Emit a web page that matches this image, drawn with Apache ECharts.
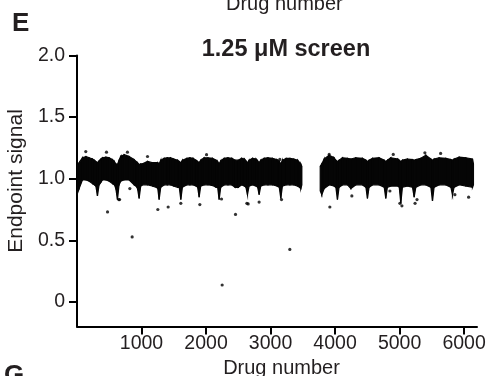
<!DOCTYPE html>
<html>
<head>
<meta charset="utf-8">
<script src="https://cdn.jsdelivr.net/npm/echarts@6/dist/echarts.min.js"></script>
<style>
html,body{margin:0;padding:0;background:#fff;overflow:hidden;}
#chart{width:499px;height:376px;}
</style>
</head>
<body>
<div id="chart"></div>
<script>
// ---- Data ----
// Dense band of screened drugs, given as its upper and lower envelope (two plate runs)
const band1Drug = [0,33,85,137,188,240,270,292,317,342,370,395,446,498,550,580,602,627,652,679,730,808,886,915,938,963,988,1015,1092,1170,1230,1252,1273,1298,1350,1400,1450,1500,1560,1585,1609,1634,1700,1750,1800,1845,1870,1893,1918,1970,2030,2100,2155,2180,2203,2228,2280,2340,2400,2450,2500,2550,2595,2618,2642,2667,2720,2775,2800,2823,2848,2900,2960,3030,3100,3135,3159,3184,3240,3300,3360,3420,3469,3485];
const band1High = [1.10,1.13,1.17,1.18,1.17,1.16,1.15,1.14,1.13,1.145,1.16,1.17,1.175,1.17,1.155,1.14,1.12,1.115,1.15,1.18,1.195,1.18,1.155,1.14,1.13,1.115,1.12,1.12,1.14,1.13,1.13,1.13,1.12,1.15,1.165,1.17,1.17,1.16,1.15,1.14,1.13,1.15,1.165,1.17,1.165,1.15,1.14,1.13,1.15,1.17,1.17,1.165,1.15,1.14,1.12,1.145,1.165,1.17,1.165,1.15,1.15,1.165,1.16,1.145,1.13,1.15,1.165,1.16,1.145,1.13,1.15,1.165,1.17,1.165,1.155,1.14,1.12,1.15,1.165,1.165,1.16,1.15,1.12,1.10];
const band1Low  = [0.87,0.92,0.99,0.99,0.98,0.96,0.95,0.94,0.86,0.95,0.97,0.99,0.99,0.98,0.96,0.95,0.92,0.83,0.95,0.98,0.99,0.99,0.95,0.94,0.92,0.84,0.94,0.95,0.95,0.94,0.93,0.92,0.83,0.93,0.95,0.95,0.95,0.94,0.93,0.93,0.83,0.93,0.95,0.95,0.95,0.94,0.93,0.85,0.94,0.95,0.95,0.945,0.93,0.93,0.83,0.93,0.95,0.95,0.95,0.93,0.93,0.95,0.94,0.93,0.87,0.94,0.95,0.94,0.93,0.87,0.94,0.95,0.95,0.95,0.94,0.93,0.84,0.94,0.95,0.95,0.95,0.94,0.92,0.95];
const band2Drug = [3770,3794,3831,3908,3985,4012,4037,4062,4115,4192,4244,4321,4425,4478,4502,4527,4580,4683,4762,4786,4811,4864,4972,4995,5019,5044,5122,5200,5226,5252,5329,5406,5485,5510,5535,5613,5716,5795,5820,5845,5923,6026,6130,6145];
const band2High = [1.10,1.12,1.16,1.19,1.17,1.15,1.14,1.15,1.17,1.165,1.16,1.17,1.165,1.15,1.14,1.15,1.165,1.17,1.15,1.14,1.15,1.17,1.16,1.15,1.14,1.15,1.16,1.155,1.15,1.155,1.165,1.19,1.16,1.15,1.16,1.17,1.165,1.155,1.15,1.16,1.175,1.17,1.16,1.12];
const band2Low  = [0.90,0.87,0.92,0.95,0.94,0.93,0.83,0.93,0.95,0.95,0.92,0.95,0.95,0.93,0.84,0.93,0.95,0.95,0.93,0.84,0.93,0.94,0.94,0.93,0.80,0.93,0.94,0.93,0.85,0.93,0.95,0.95,0.93,0.82,0.93,0.95,0.95,0.93,0.87,0.93,0.95,0.94,0.93,0.95];
// Individual drugs standing apart from the band
const pointDrug   = [136,457,690,782,1093,2008,3144,3909,4902,5392,5636,473,855,1253,1413,1609,1904,648,660,2240,2250,2457,2633,2653,2823,3170,3299,3919,4260,4850,5005,5036,5240,5270,5857,6070,819];
const pointSignal = [1.22,1.215,1.18,1.215,1.18,1.195,1.156,1.197,1.197,1.21,1.205,0.73,0.527,0.75,0.77,0.80,0.79,0.83,0.83,0.835,0.137,0.71,0.80,0.795,0.81,0.83,0.426,0.77,0.86,0.90,0.80,0.78,0.80,0.83,0.87,0.85,0.92];
// Axis ticks
const xTicks = [1000,2000,3000,4000,5000,6000];
const yTicks = [0,0.5,1.0,1.5,2.0];
const yTickLabels = ['0','0.5','1.0','1.5','2.0'];

// ---- Build series ----
function segments(d, hi, lo){
  const out = [];
  for (let i = 0; i < d.length - 1; i++) out.push([d[i], hi[i], lo[i], d[i+1], hi[i+1], lo[i+1]]);
  return out;
}
const bandData = segments(band1Drug, band1High, band1Low).concat(segments(band2Drug, band2High, band2Low));
const pointData = pointDrug.map((d, i) => [d, pointSignal[i]]);

const FONT = 'Liberation Sans, Arial, Helvetica, sans-serif';
const TXT = '#231f20';
const chart = echarts.init(document.getElementById('chart'), null, {renderer: 'canvas'});
chart.setOption({
  animation: false,
  backgroundColor: '#ffffff',
  title: {
    text: '1.25 μM screen', left: 281, top: 33, textAlign: 'center',
    textStyle: {fontFamily: FONT, fontSize: 23.5, fontWeight: 'bold', color: TXT}
  },
  graphic: [
    {type: 'text', left: 12, top: 11, style: {text: 'E', font: 'bold 26px ' + FONT, fill: TXT}},
    {type: 'text', left: 4, top: 363, style: {text: 'G', font: 'bold 26px ' + FONT, fill: TXT}},
    {type: 'text', left: 226, top: -6, style: {text: 'Drug number', font: '20px ' + FONT, fill: TXT}}
  ],
  grid: {left: 77, right: 22, top: 55.5, bottom: 49.5, containLabel: false, outerBoundsMode: 'none'},
  xAxis: {
    type: 'value', min: 0, max: 6200,
    name: 'Drug number', nameLocation: 'middle', nameGap: 28,
    nameTextStyle: {fontFamily: FONT, fontSize: 20, color: TXT, padding: [0, 0, 0, 9]},
    axisLine: {show: true, onZero: false, lineStyle: {color: '#000', width: 2}},
    axisTick: {show: true, length: 8, lineStyle: {color: '#000', width: 2}, customValues: xTicks},
    axisLabel: {customValues: xTicks, margin: 7, fontFamily: FONT, fontSize: 19.5, color: TXT,
      formatter: v => String(v)},
    splitLine: {show: false}
  },
  yAxis: {
    type: 'value', min: -0.2, max: 2.0,
    name: 'Endpoint signal', nameLocation: 'middle', nameGap: 50,
    nameTextStyle: {fontFamily: FONT, fontSize: 21, color: TXT, padding: [0, 0, 0, 20]},
    axisLine: {show: true, onZero: false, lineStyle: {color: '#000', width: 2}},
    axisTick: {show: true, length: 8, lineStyle: {color: '#000', width: 2}, customValues: yTicks},
    axisLabel: {
      customValues: yTicks, margin: 12, fontFamily: FONT, fontSize: 19.5, color: TXT,
      formatter: v => { const k = yTicks.findIndex(t => Math.abs(t - v) < 1e-9); return k >= 0 ? yTickLabels[k] : ''; }
    },
    splitLine: {show: false}
  },
  series: [
    {
      type: 'custom', clip: true,
      data: bandData,
      encode: {x: [0, 3], y: [1, 2, 4, 5]},
      renderItem: function (params, api) {
        const a = api.coord([api.value(0), api.value(1)]);
        const b = api.coord([api.value(3), api.value(4)]);
        const c = api.coord([api.value(3), api.value(5)]);
        const d = api.coord([api.value(0), api.value(2)]);
        return {
          type: 'polygon',
          shape: {points: [a, b, c, d]},
          style: {fill: '#050505', stroke: '#050505', lineWidth: 1.2}
        };
      }
    },
    {
      type: 'scatter', data: pointData, symbol: 'circle', symbolSize: 3.2,
      itemStyle: {color: '#000'}
    }
  ]
});
</script>
</body>
</html>
